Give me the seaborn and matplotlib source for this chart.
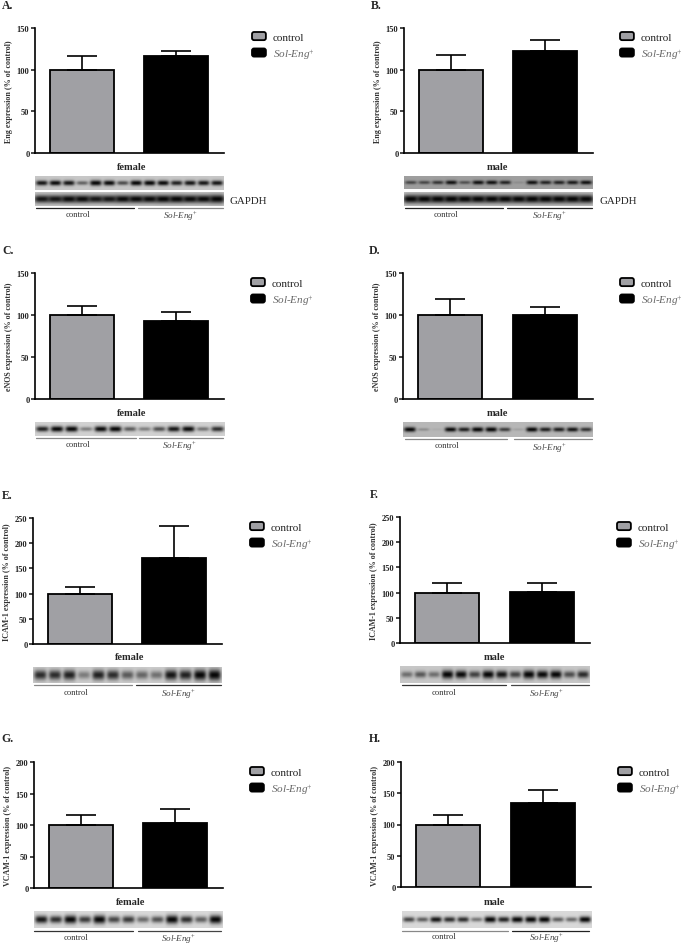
import numpy as np
import pandas as pd
import matplotlib
matplotlib.use("Agg")
import matplotlib.pyplot as plt
import seaborn as sns
from matplotlib.legend_handler import HandlerPatch
from matplotlib.patches import FancyBboxPatch, Patch

W, H = 683, 945

# Values ----------------------------------------------------------------------#
groups = ['control', 'Sol-Eng']
panels = ['A', 'B', 'C', 'D', 'E', 'F', 'G', 'H']
proteins = ['Eng', 'Eng', 'eNOS', 'eNOS', 'ICAM-1', 'ICAM-1', 'VCAM-1', 'VCAM-1']
sexes = ['female', 'male'] * 4
control_vals = [100, 100, 100, 100, 100, 100, 100, 100]
soleng_vals = [116, 122, 93, 100, 171, 102, 103, 134]
control_err = [17, 18, 11, 19, 14, 19, 16, 15]
soleng_err = [6, 14, 11, 10, 64, 18, 22, 21]
y_max = [150, 150, 150, 150, 250, 250, 200, 200]
y_step = [50, 50, 50, 50, 50, 50, 50, 50]

# band strength per lane on the blots
blot_a = [.8, .85, .8, .45, 1, .85, .55, .9, .9, .85, .75, .8, .8, .8]
blot_a_gapdh = [.8, .8, .85, .85, .8, .8, .85, .85, .85, .9, .9, .85, .85, 1]
blot_b = [.5, .5, .6, .8, .45, .8, .8, .7, .1, .8, .7, .7, .75, .8]
blot_b_gapdh = [1, 1, 1, 1, .95, .95, .95, .95, .95, 1, 1, 1, 1, 1]
blot_c = [.75, .9, .9, .35, .85, .9, .5, .35, .55, .8, .85, .4, .7]
blot_d = [.95, .2, .05, .85, .75, .95, .95, .6, .1, .9, .75, .75, .8, .65]
blot_e = [.7, .7, .75, .35, .75, .7, .5, .45, .4, .8, .75, .9, 1]
blot_f = [.4, .5, .4, 1, .85, .6, .9, .8, .6, 1, .85, .9, .55, .7]
blot_g = [.8, .7, .95, .65, 1, .6, .65, .45, .55, 1, .7, .5, 1]
blot_h = [.6, .5, .8, .7, .7, .4, .95, .75, .95, 1, 1, .5, .45, .95]

# Layout in pixels of the 683x945 page ----------------------------------------#
axes_box = [(35, 224, 29, 154), (404, 593, 29, 154), (35, 224, 274, 400), (403, 593, 274, 400),
            (33, 222, 519, 645), (400, 590, 518, 644), (34, 223, 763, 889), (401, 591, 763, 888)]
letter_pos = [(2, 6), (371, 6), (2, 251), (369, 251), (2, 496), (370, 495), (1, 739), (369, 739)]
sex_pos = [(132, 168), (497, 168), (132, 414), (497, 414), (130, 658), (494, 658), (131, 903), (494, 903)]
legend_pos = [(252, 33), (620, 33), (251, 279), (620, 279), (250, 523), (617, 523), (250, 768), (618, 768)]
blot_box = [(35, 224, 177, 191), (404, 593, 177, 190), (35, 225, 423, 437), (403, 593, 423, 438),
            (33, 222, 668, 684), (400, 590, 667, 684), (34, 223, 912, 929), (402, 592, 912, 929)]
blot_lanes = [blot_a, blot_b, blot_c, blot_d, blot_e, blot_f, blot_g, blot_h]
blot_bg = [.78, .62, .82, .72, .80, .78, .85, .85]
band_height = [.19, .17, .21, .16, .34, .24, .24, .18]
gapdh_box = [(35, 224, 193, 207), (404, 593, 193, 207), None, None, None, None, None, None]
gapdh_lanes = [blot_a_gapdh, blot_b_gapdh]
underline_y = [209, 209, 438.5, 440, 686, 686, 932, 932]
underline_ctrl = [(36, 134), (405, 503), (36, 136), (405, 507), (34, 132), (402, 506), (34, 133), (402, 508)]
underline_sol = [(138, 223), (507, 592), (139, 223), (514, 592), (136, 221), (511, 589), (138, 221), (512, 589)]
ctrl_line_col = ['#222222', '#222222', '#888888', '#888888', '#888888', '#333333', '#333333', '#888888']
sol_line_col = ['#888888', '#222222', '#888888', '#888888', '#333333', '#444444', '#444444', '#222222']
ctrl_label_pos = [(78, 215), (446, 215), (78, 445), (447, 446), (76, 693), (444, 693), (76, 938), (444, 937)]
sol_label_pos = [(180, 217), (549, 217), (179, 447), (549, 449), (178, 695), (546, 695), (178, 940), (546, 939)]

GREY = '#a0a0a4'
sns.set_style("white")
plt.rcParams['font.family'] = ['Liberation Serif', 'DejaVu Serif']
plt.rcParams['mathtext.fontset'] = 'custom'
plt.rcParams['mathtext.rm'] = 'Liberation Serif'
plt.rcParams['mathtext.it'] = 'Liberation Serif:italic'

fig = plt.figure(figsize=(W / 100, H / 100), dpi=100)


def px_axes(box):
    x0, x1, y0, y1 = box
    return fig.add_axes([x0 / W, 1 - y1 / H, (x1 - x0) / W, (y1 - y0) / H])


def px_text(x, y, s, **kw):
    kw.setdefault('ha', 'center')
    kw.setdefault('va', 'center')
    fig.text(x / W, 1 - y / H, s, **kw)


def round_handle(legend, orig_handle, xdescent, ydescent, width, height, fontsize):
    return FancyBboxPatch((-xdescent + 1, -ydescent + 1), width - 2, height - 2,
                          boxstyle="round,pad=1,rounding_size=1.5")


def draw_blot(box, lanes, bg, band_h, lane_w=.43):
    # one soft dark band per lane, strength comes from the lanes list
    ax = px_axes(box)
    nx, ny = int(box[1] - box[0]) * 3, int(box[3] - box[2]) * 3
    xx, yy = np.meshgrid(np.linspace(0, 1, nx), np.linspace(0, 1, ny))
    img = np.full((ny, nx), bg, dtype=float)
    n = len(lanes)
    for i, s in enumerate(lanes):
        cx = (i + .5) / n
        d = np.exp(-(np.abs(xx - cx) / (lane_w / n)) ** 4 - (np.abs(yy - .5) / (band_h * (.55 + .5 * s))) ** 2)
        img = img * (1 - min(s * 1.12, .97) * d)
    ax.imshow(img, cmap='gray', vmin=0, vmax=1, aspect='auto', interpolation='bilinear')
    ax.axis('off')


handles = [Patch(facecolor=GREY, edgecolor='black', linewidth=1.3, label='control'),
           Patch(facecolor='black', edgecolor='black', linewidth=1.3, label=r'Sol-Eng$^{+}$')]

for i, p in enumerate(panels):
    ax = px_axes(axes_box[i])
    df = pd.DataFrame({'group': groups, 'value': [control_vals[i], soleng_vals[i]]})
    sns.barplot(data=df, x='group', y='value', hue='group', palette=[GREY, 'black'], legend=False,
                width=.68, edgecolor='black', linewidth=1.3, ax=ax)
    ax.errorbar([0, 1], df['value'], yerr=[[0, 0], [control_err[i], soleng_err[i]]], fmt='none',
                ecolor='black', elinewidth=1.2, capsize=11, capthick=1.2)
    ax.set_xlim(-.5, 1.51)
    ax.set_ylim(0, y_max[i])
    ax.set_yticks(np.arange(0, y_max[i] + 1, y_step[i]))
    ax.set_xticks([])
    ax.set_xlabel('')
    ax.set_ylabel(f'{proteins[i]} expression (% of control)', fontsize=5.8, fontweight='bold', color='#333333')
    ax.yaxis.set_label_coords(-22 / (axes_box[i][1] - axes_box[i][0]), .5)
    ax.tick_params(axis='y', left=True, length=3, width=1.2, pad=1, labelsize=6, labelcolor='#222222')
    for t in ax.get_yticklabels():
        t.set_fontweight('bold')
    sns.despine(ax=ax)
    ax.spines['left'].set_linewidth(1.2)
    ax.spines['bottom'].set_linewidth(1.2)
    ax.spines['left'].set_color('black')
    ax.spines['bottom'].set_color('black')

    lx, ly = legend_pos[i]
    leg = ax.legend(handles=handles, loc='upper left', bbox_to_anchor=(lx / W, 1 - ly / H),
                    bbox_transform=fig.transFigure, frameon=False, fontsize=8, borderpad=0, borderaxespad=0,
                    handlelength=1.25, handleheight=.75, handletextpad=.6, labelspacing=.42,
                    handler_map={Patch: HandlerPatch(patch_func=round_handle)})
    leg.get_texts()[0].set_color('#222222')
    leg.get_texts()[1].set_color('#666666')
    leg.get_texts()[1].set_fontstyle('italic')

    px_text(letter_pos[i][0], letter_pos[i][1], f'{p}.', ha='left', fontsize=8.5, fontweight='bold')
    px_text(sex_pos[i][0], sex_pos[i][1], sexes[i], fontsize=7.5, fontweight='bold')

    draw_blot(blot_box[i], blot_lanes[i], blot_bg[i], band_height[i])
    if gapdh_box[i] is not None:
        draw_blot(gapdh_box[i], gapdh_lanes[i], .78, .3, lane_w=.56)
        px_text(gapdh_box[i][1] + 6, 202, 'GAPDH', ha='left', fontsize=7.8, color='#222222')

    y = 1 - underline_y[i] / H
    for (a, b), c in zip([underline_ctrl[i], underline_sol[i]], [ctrl_line_col[i], sol_line_col[i]]):
        fig.add_artist(plt.Line2D([a / W, b / W], [y, y], color=c, linewidth=.9))
    px_text(ctrl_label_pos[i][0], ctrl_label_pos[i][1], 'control', fontsize=6.2, color='#333333')
    px_text(sol_label_pos[i][0], sol_label_pos[i][1], r'Sol-Eng$^{+}$', fontsize=6.6, color='#444444', style='italic')

fig.savefig('out.png', dpi=100)
